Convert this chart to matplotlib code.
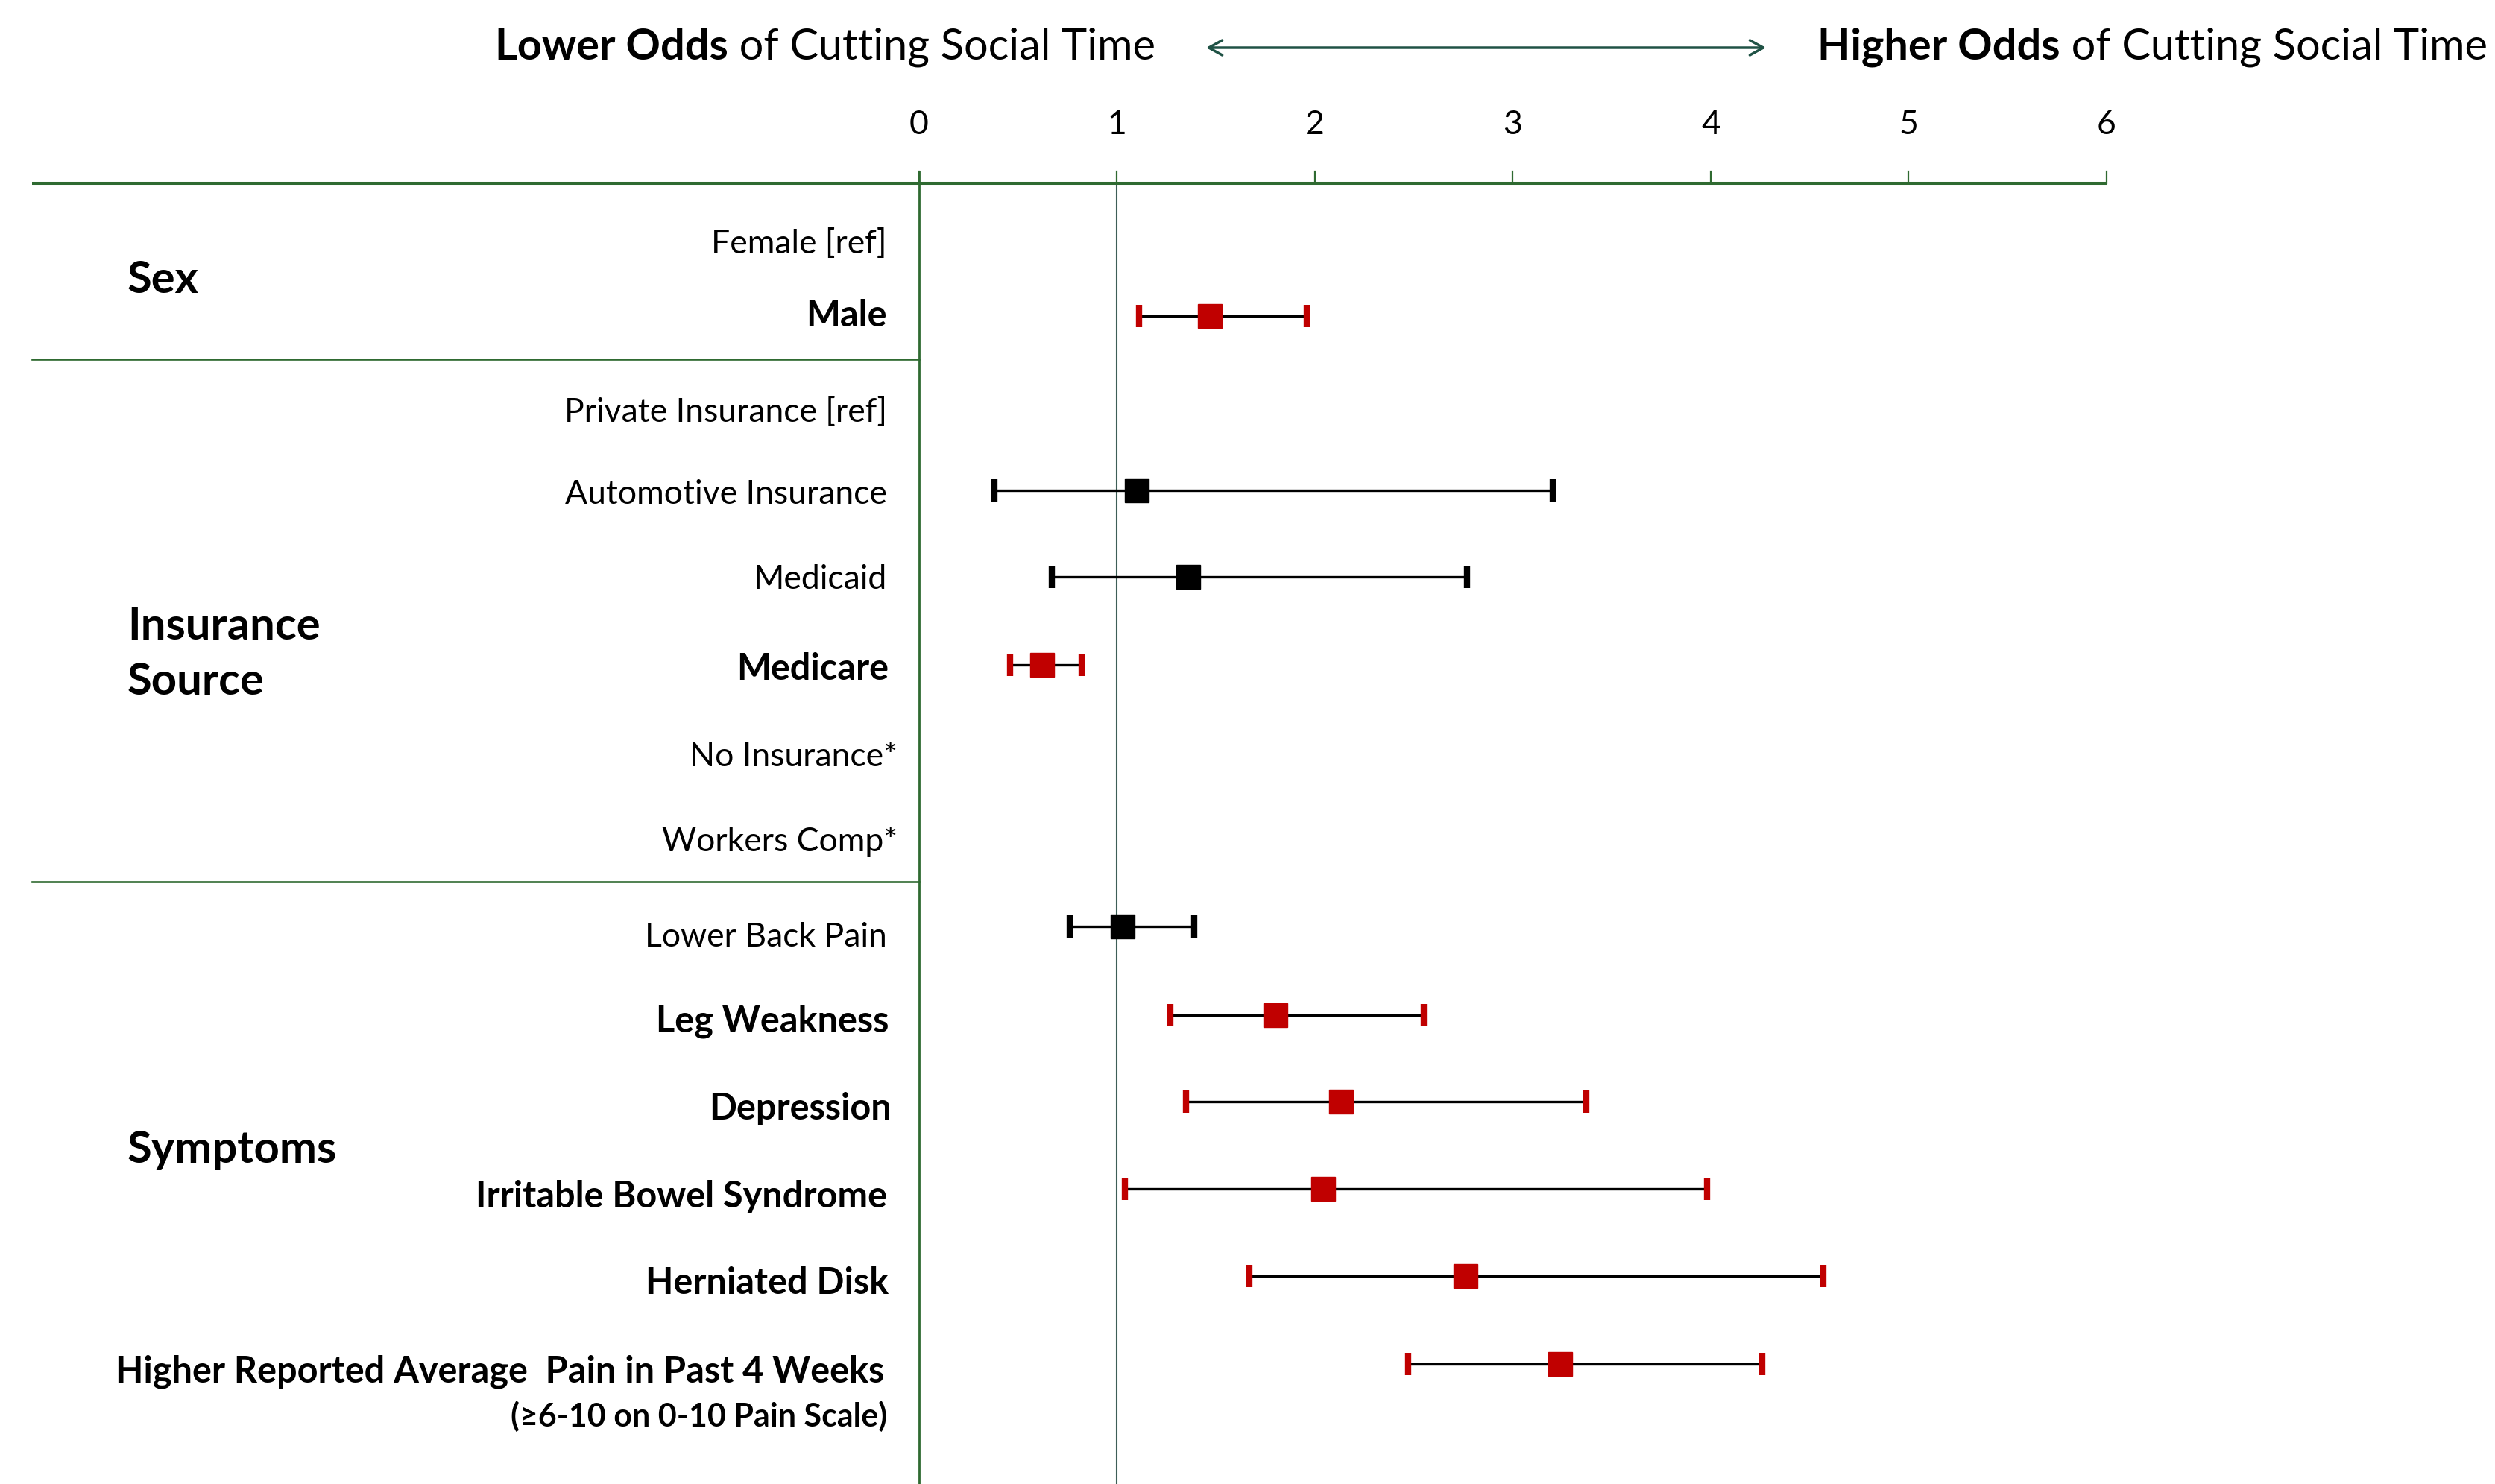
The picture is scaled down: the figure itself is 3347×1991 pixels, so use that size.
import matplotlib
matplotlib.use("Agg")
import matplotlib.pyplot as plt

plt.rcParams['font.family'] = ['Lato', 'DejaVu Sans']

# ---- data -------------------------------------------------------------
row_labels = [
    "Female [ref]", "Male",
    "Private Insurance [ref]", "Automotive Insurance", "Medicaid", "Medicare",
    "No Insurance*", "Workers Comp*",
    "Lower Back Pain", "Leg Weakness", "Depression", "Irritable Bowel Syndrome",
    "Herniated Disk", "Higher Reported Average  Pain in Past 4 Weeks",
]
row_bold = [False, True, False, False, False, True, False, False,
            False, True, True, True, True, True]
odds_ratio = [None, 1.47, None, 1.10, 1.36, 0.62, None, None,
              1.03, 1.80, 2.13, 2.04, 2.76, 3.24]
ci_low = [None, 1.11, None, 0.38, 0.67, 0.46, None, None,
          0.76, 1.27, 1.35, 1.04, 1.67, 2.47]
ci_high = [None, 1.96, None, 3.20, 2.77, 0.82, None, None,
           1.39, 2.55, 3.37, 3.98, 4.57, 4.26]
significant = [False, True, False, False, False, True, False, False,
               False, True, True, True, True, True]
pain_note = "(≥6-10 on 0-10 Pain Scale)"
group_labels = ["Sex", "Insurance\nSource", "Symptoms"]
x_ticks = [0, 1, 2, 3, 4, 5, 6]
left_header_bold, left_header_rest = "Lower Odds", " of Cutting Social Time"
right_header_bold, right_header_rest = "Higher Odds", " of Cutting Social Time"

# ---- layout (figure pixels) -------------------------------------------
W, H = 3347, 1991
X0_PX, UNIT_PX = 1233.0, 265.5           # where odds 0 sits, pixels per unit
label_y = [328, 424, 553, 664, 777, 898, 1016, 1129,
           1257, 1370, 1488, 1605, 1722, 1840]
label_right = [1190, 1190, 1190, 1190, 1190, 1192, 1204, 1204,
               1190, 1192, 1196, 1190, 1192, 1186]
mark_y = [324, 424, 549, 658, 774, 892, 1012, 1125,
          1243, 1362, 1478, 1595, 1712, 1830]
group_y = [376, 878, 1543]
sep_y = [482, 1183]
axis_y = 246
GREEN = "#2F6A31"
RED = "#C00000"
FS_ROW, FS_ROW_BOLD, FS_NOTE = 32, 35, 31
FS_GROUP, FS_HEAD, FS_TICK = 43, 41.5, 32


def px(x):
    """Convert a horizontal pixel position into odds-ratio units."""
    return (x - X0_PX) / UNIT_PX


fig = plt.figure(figsize=(W / 100, H / 100), dpi=100)
ax = fig.add_axes([0, 0, 1, 1])
ax.set_xlim(px(0), px(W))
ax.set_ylim(H, 0)
ax.axis("off")

# top scale
ax.plot([px(43), x_ticks[-1]], [axis_y, axis_y], color=GREEN, lw=2.9,
        solid_capstyle="butt", zorder=2)
for t in x_ticks:
    ax.plot([t, t], [axis_y - 16, axis_y], color=GREEN, lw=1.6, zorder=2)
    ax.text(t, 168, str(t), ha="center", va="center", fontsize=FS_TICK)

# vertical axis at 0 and reference line at 1
ax.plot([0, 0], [axis_y - 16, H], color=GREEN, lw=2.0, zorder=2)
ax.plot([1, 1], [axis_y, H], color="#3E5E57", lw=1.5, zorder=1)

# group separators
for y in sep_y:
    ax.plot([px(43), 0], [y, y], color=GREEN, lw=1.9, zorder=2)

# group labels
for g, y in zip(group_labels, group_y):
    ax.text(px(171), y, g, ha="left", va="center", fontsize=FS_GROUP,
            fontweight="bold", linespacing=1.45)

# row labels
for lab, y, xr, b in zip(row_labels, label_y, label_right, row_bold):
    ax.text(px(xr), y, lab, ha="right", va="center",
            fontsize=FS_ROW_BOLD if b else FS_ROW,
            fontweight="bold" if b else "normal")
ax.text(px(1190), 1900, pain_note, ha="right", va="center", fontsize=FS_NOTE,
        fontweight="bold")

# estimates with confidence intervals
for o, lo, hi, y, sig in zip(odds_ratio, ci_low, ci_high, mark_y, significant):
    if o is None:
        continue
    c = RED if sig else "black"
    ax.plot([lo, hi], [y, y], color="black", lw=2.4, zorder=3,
            solid_capstyle="butt")
    for e in (lo, hi):
        ax.plot([e, e], [y - 15, y + 15], color=c, lw=6,
                solid_capstyle="butt", zorder=4)
    ax.plot([o], [y], marker="s", ms=23, color=c, mec=c, zorder=5)

# header with direction arrow
fig.canvas.draw()
renderer = fig.canvas.get_renderer()
inv = ax.transData.inverted()
head_base = 80

t_rest = ax.text(px(1550), head_base, left_header_rest, ha="right",
                 va="baseline", fontsize=FS_HEAD)
bb = t_rest.get_window_extent(renderer)
ax.text(inv.transform((bb.x0, 0))[0], head_base, left_header_bold,
        ha="right", va="baseline", fontsize=FS_HEAD, fontweight="bold")

t_bold = ax.text(px(2438), head_base, right_header_bold, ha="left",
                 va="baseline", fontsize=FS_HEAD, fontweight="bold")
bb = t_bold.get_window_extent(renderer)
ax.text(inv.transform((bb.x1, 0))[0], head_base, right_header_rest,
        ha="left", va="baseline", fontsize=FS_HEAD)

ax.annotate("", xy=(px(1618), 64), xytext=(px(2369), 64),
            arrowprops=dict(arrowstyle="<->,head_length=0.65,head_width=0.36",
                            color="#1F5245", lw=2.5, mutation_scale=20,
                            shrinkA=0, shrinkB=0))

fig.savefig("out.png", dpi=100)
